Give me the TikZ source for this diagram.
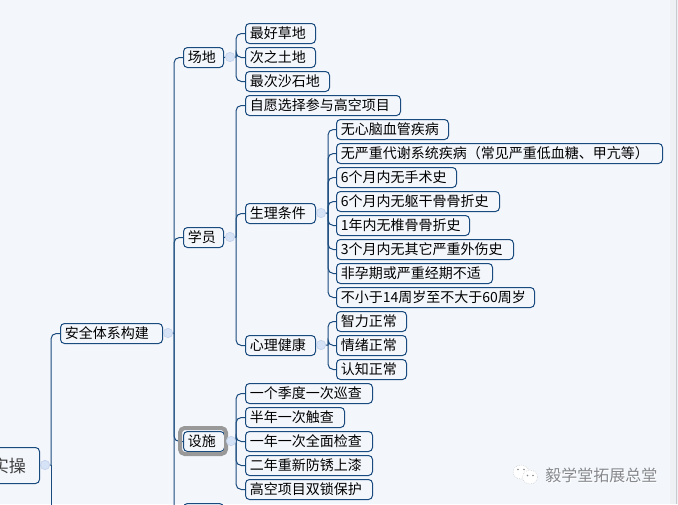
\documentclass[tikz,border=0pt]{standalone}
\usepackage{fontspec}
\setmainfont{Noto Sans CJK SC}
\definecolor{bgc}{HTML}{F3F6FB}
\definecolor{barc}{HTML}{EFF0F4}
\definecolor{edgec}{HTML}{C9CACE}
\definecolor{linec}{HTML}{1A4B7E}
\definecolor{dotc}{HTML}{D6E2F5}
\definecolor{dotl}{HTML}{C3D3EC}
\definecolor{ringc}{HTML}{999999}
\definecolor{txtc}{HTML}{000000}
\definecolor{wmc}{HTML}{85888D}
\newlength{\bw}
\newcommand{\bx}[6][]{%
  \pgfmathsetlength{\bw}{(#5-#3)*0.75pt}%
  \node[topic,#1,minimum width=\bw] (#2) at (#3,#4) {\makebox[\bw][l]{\hspace{3.3pt}#6}};}
\begin{document}
\begin{tikzpicture}[x=0.75pt,y=-0.75pt,
  topic/.style={draw=linec,fill=bgc,line width=0.75pt,rounded corners=3pt,anchor=north west,inner sep=0pt,minimum height=15pt,font=\fontsize{10.5pt}{12pt}\selectfont,text=txtc},
  link/.style={draw=linec,line width=0.75pt},
  elbow/.style={link,rounded corners=4pt},
  dot/.style={circle,draw=dotl,fill=dotc,line width=0.5pt,minimum size=7pt,inner sep=0pt}]
\useasboundingbox (0,0) rectangle (678,504);
\fill[bgc] (0,0) rectangle (678,504);
\fill[barc] (670,0) rectangle (678,504);
\fill[edgec] (675.5,0) rectangle (677,504);
% junction coordinates on the buses
\coordinate (jA) at (51,465);
\coordinate (jB) at (174,333);
\coordinate (jC) at (236,57);
\coordinate (jD) at (236,237);
\coordinate (jE) at (328,213);
\coordinate (jF) at (328,345);
\coordinate (jG) at (236,441);
\coordinate (endA) at (51,530);
% topics
\bx[minimum height=27pt,font=\fontsize{12.8pt}{14pt}\selectfont,text=black!75]{shicao}{-40}{447}{39}{\hspace{20.2pt}实操}
\bx{anquan}{60}{323}{162}{安全体系构建}
\bx{changdi}{183}{47}{223}{场地}
\bx{xueyuan}{183}{227}{223}{学员}
\bx{sheshi}{183}{431}{224}{设施}
\bx{next}{183}{503}{223}{}
\bx{a1}{245}{23}{315}{最好草地}
\bx{a2}{245}{47}{315}{次之土地}
\bx{a3}{245}{71}{329}{最次沙石地}
\bx{b0}{245}{95}{400}{自愿选择参与高空项目}
\bx{b1}{245}{203}{315}{生理条件}
\bx{b2}{245}{335}{315}{心理健康}
\bx{c1}{336}{119}{448}{无心脑血管疾病}
\bx{c2}{336}{143}{662}{无严重代谢系统疾病（常见严重低血糖、甲亢等）}
\bx{c3}{336}{167}{456}{6个月内无手术史}
\bx{c4}{336}{191}{499}{6个月内无躯干骨骨折史}
\bx{c5}{336}{215}{469}{1年内无椎骨骨折史}
\bx{c6}{336}{239}{513}{3个月内无其它严重外伤史}
\bx{c7}{336}{263}{492}{非孕期或严重经期不适}
\bx{c8}{336}{287}{534}{不小于14周岁至不大于60周岁}
\bx{d1}{336}{311}{406}{智力正常}
\bx{d2}{336}{335}{406}{情绪正常}
\bx{d3}{336}{359}{406}{认知正常}
\bx{e1}{245}{383}{372}{一个季度一次巡查}
\bx{e2}{245}{407}{344}{半年一次触查}
\bx{e3}{245}{431}{372}{一年一次全面检查}
\bx{e4}{245}{455}{372}{二年重新防锈上漆}
\bx{e5}{245}{479}{372}{高空项目双锁保护}
% connectors
\draw[link] (shicao.east) -- (jA);
\draw[link] (anquan.east) -- (jB);
\draw[link] (changdi.east) -- (jC);
\draw[link] (xueyuan.east) -- (jD);
\draw[link] (b1.east) -- (jE);
\draw[link] (b2.east) -- (jF);
\draw[link] (sheshi.east) -- (jG);
\draw[elbow] (jA) |- (anquan.west);
\draw[link] (jA) -- (endA);
\foreach \c in {changdi,xueyuan,sheshi,next} \draw[elbow] (jB) |- (\c.west);
\foreach \c in {a1,a2,a3} \draw[elbow] (jC) |- (\c.west);
\foreach \c in {b0,b1,b2} \draw[elbow] (jD) |- (\c.west);
\foreach \c in {c1,c2,c3,c4,c5,c6,c7,c8} \draw[elbow] (jE) |- (\c.west);
\foreach \c in {d1,d2,d3} \draw[elbow] (jF) |- (\c.west);
\foreach \c in {e1,e2,e3,e4,e5} \draw[elbow] (jG) |- (\c.west);
% selection ring of the focused topic
\draw[ringc,line width=3pt,rounded corners=3.5pt] (180,428) rectangle (226,454);
% collapse dots
\node[dot] (dA) at (45,465) {};
\node[dot] (dB) at (168,333) {};
\node[dot] (dC) at (230,57) {};
\node[dot] (dD) at (230,237) {};
\node[dot] (dE) at (321,213) {};
\node[dot] (dF) at (321,345) {};
\node[dot] (dG) at (231,441) {};
% watermark
\begin{scope}[draw=wmc!60,fill=white,line width=0.4pt,densely dotted]
\filldraw (521,472) ellipse (8 and 7);
\filldraw (530,477) ellipse (7.5 and 7);
\end{scope}
\fill[wmc] (518,469.5) circle (0.9) (524,469.5) circle (0.9) (527.5,475.5) circle (0.8) (533,475.5) circle (0.8);
\node[anchor=west,inner sep=0pt,font=\fontsize{12pt}{14pt}\selectfont,text=white] (wms) at (546,476) {毅学堂拓展总堂};
\node[anchor=west,inner sep=0pt,font=\fontsize{12pt}{14pt}\selectfont,text=wmc] (wm) at (545,475) {毅学堂拓展总堂};
\end{tikzpicture}
\end{document}
